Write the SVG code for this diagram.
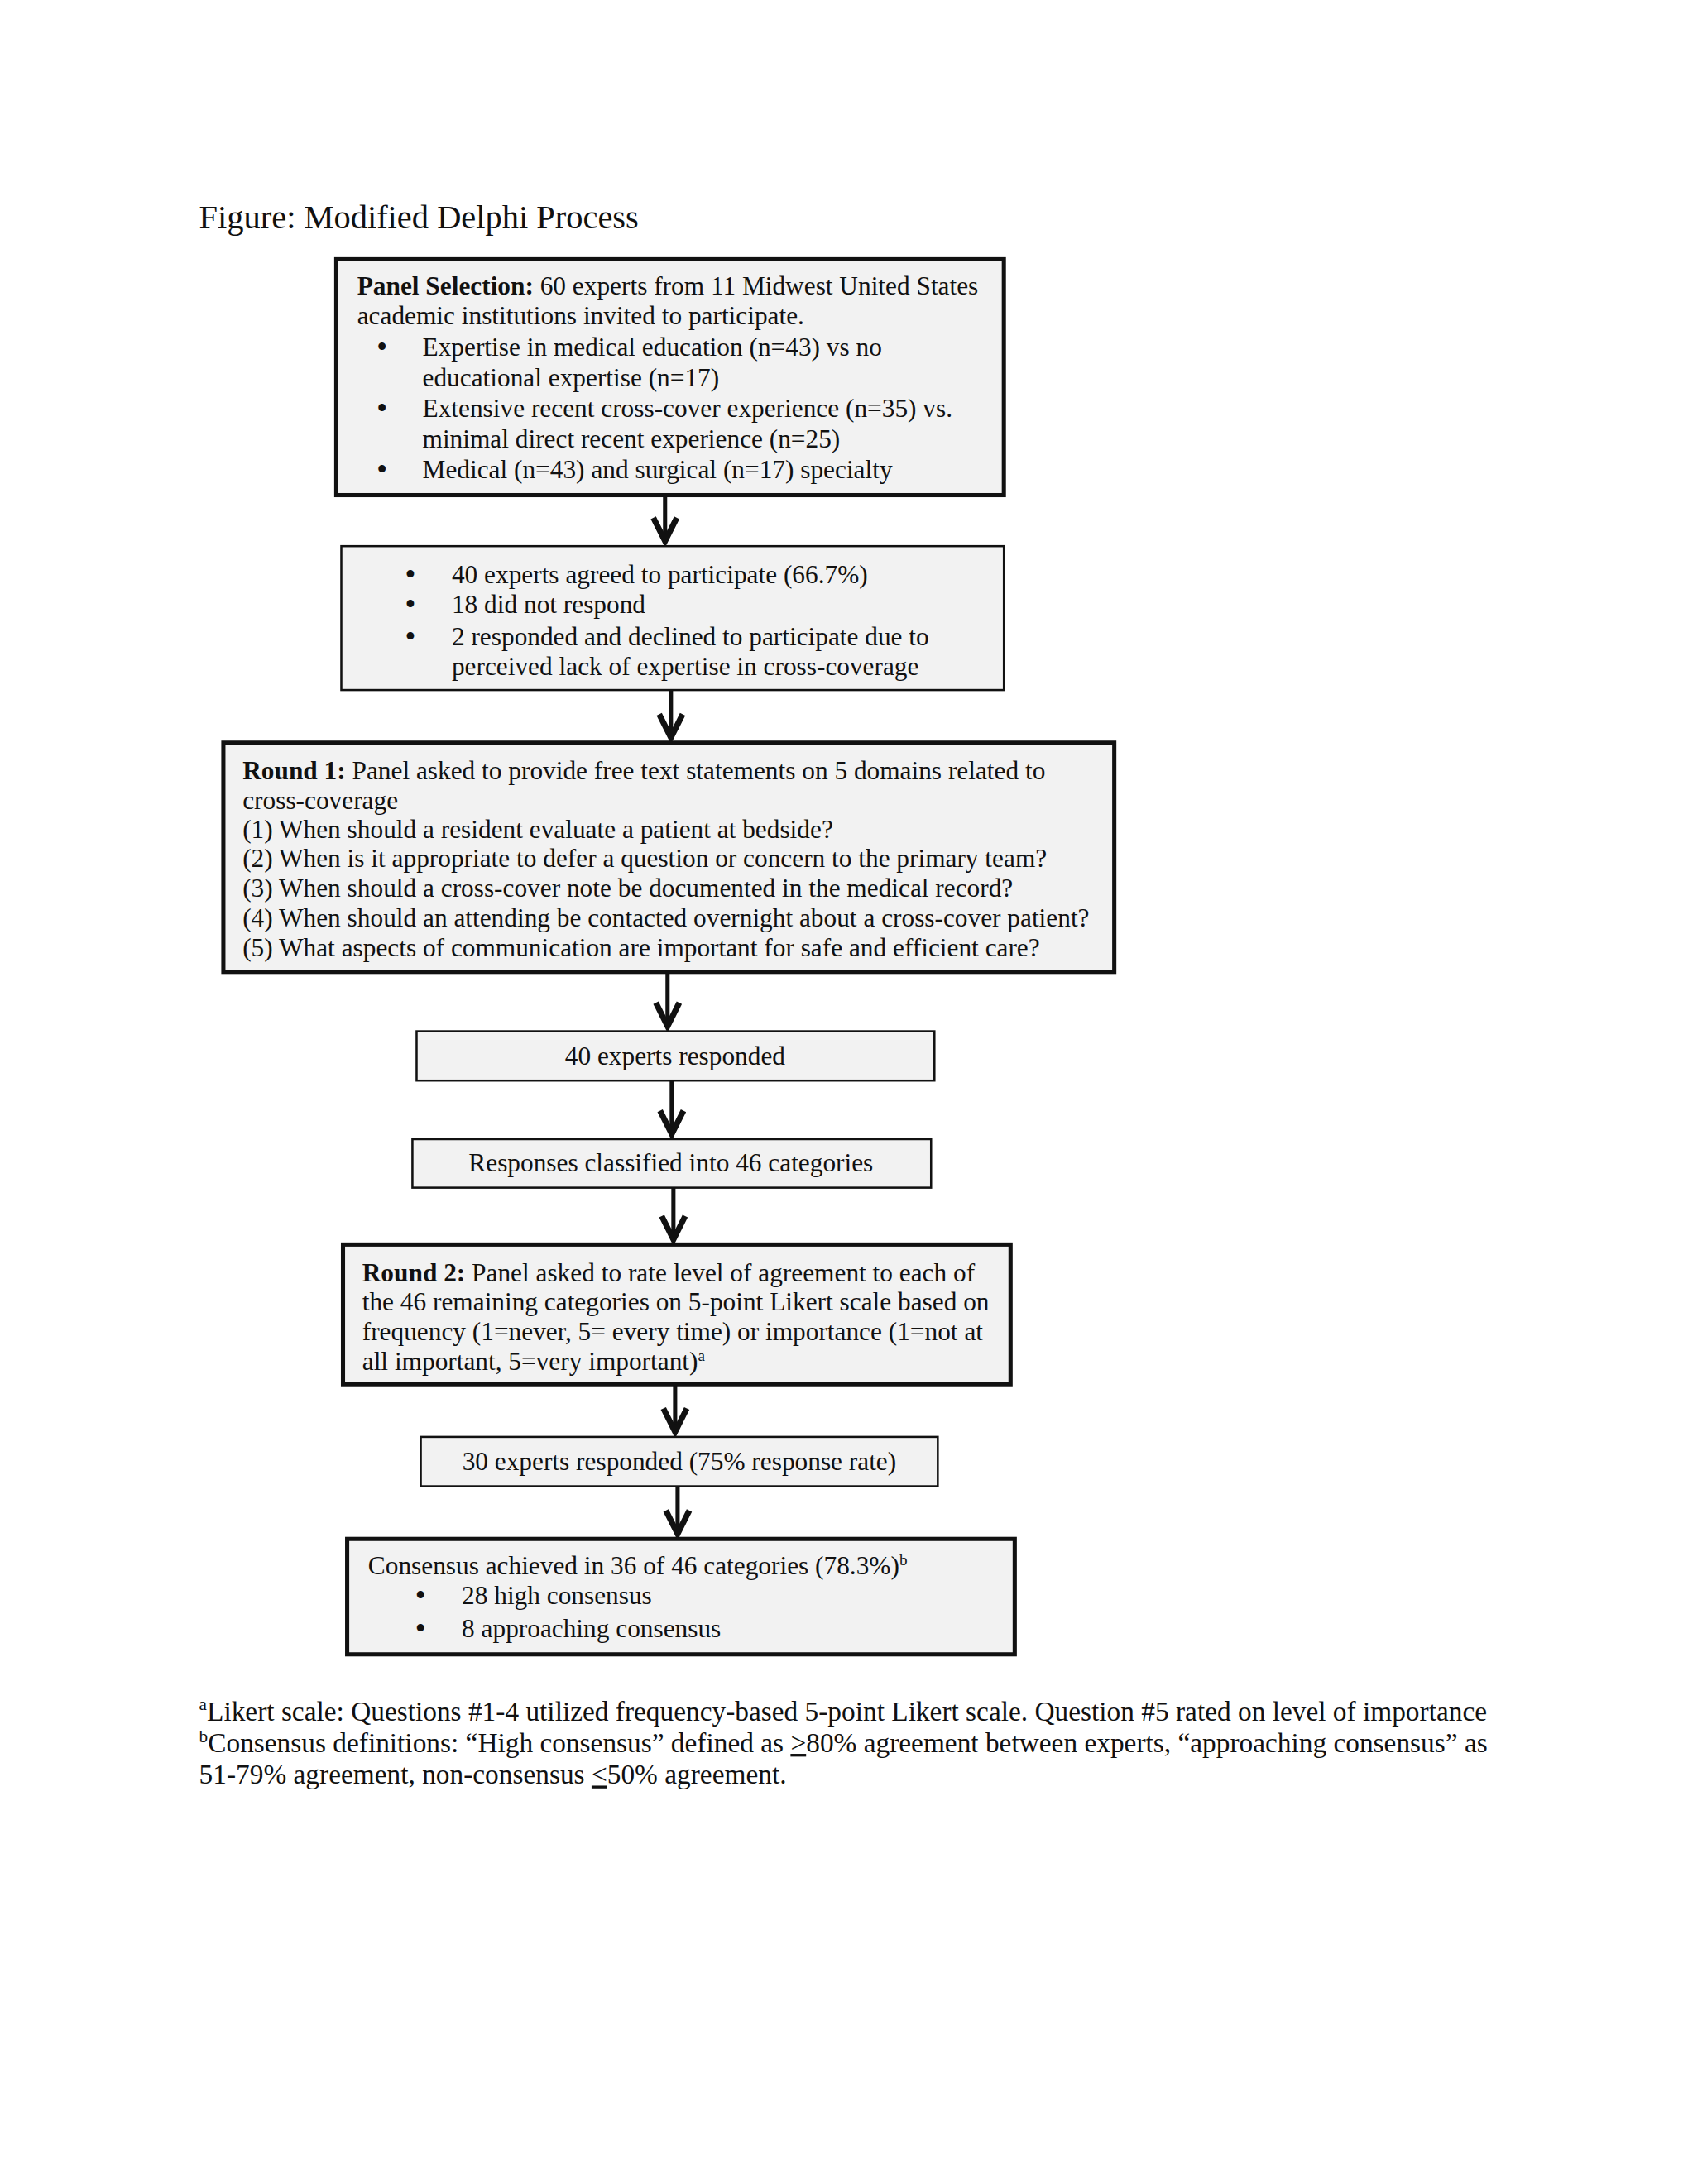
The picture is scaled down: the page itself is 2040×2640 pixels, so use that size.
<svg xmlns="http://www.w3.org/2000/svg" width="2040" height="2640" viewBox="0 0 2040 2640">
<style>
text{font-family:"Liberation Serif","Times New Roman",serif;fill:#111;}
.t{font-size:31px;}
.bu{font-size:32px;font-family:"Liberation Sans",Arial,sans-serif;}
.title{font-size:40px;}
.fn{font-size:33px;}
.box{fill:#f2f2f2;stroke:#111;}
.thick{stroke-width:5;}
.thin{stroke-width:2.5;}
.b{font-weight:bold;}
.conn{stroke:#111;stroke-width:5;fill:none;}
.mid{text-anchor:middle;}
</style>
<defs>
<marker id="ah" markerUnits="userSpaceOnUse" viewBox="-40 -24 48 48" markerWidth="48" markerHeight="48" refX="0" refY="0" orient="auto" overflow="visible">
<path d="M -28,-14 L 0,0 L -28,14" fill="none" stroke="#111" stroke-width="7" stroke-linejoin="miter"/>
</marker>
</defs>
<rect width="2040" height="2640" fill="#fff"/>
<g transform="scale(1.011)">
<text class="title" x="238" y="273">Figure: Modified Delphi Process</text>

<g id="connectors">
<line class="conn" x1="795" y1="592" x2="795" y2="647" marker-end="url(#ah)"/>
<line class="conn" x1="802" y1="825" x2="802" y2="882" marker-end="url(#ah)"/>
<line class="conn" x1="798" y1="1162" x2="798" y2="1227" marker-end="url(#ah)"/>
<line class="conn" x1="803" y1="1292" x2="803" y2="1356" marker-end="url(#ah)"/>
<line class="conn" x1="805" y1="1420" x2="805" y2="1482" marker-end="url(#ah)"/>
<line class="conn" x1="807" y1="1655" x2="807" y2="1712" marker-end="url(#ah)"/>
<line class="conn" x1="810" y1="1777" x2="810" y2="1834" marker-end="url(#ah)"/>
</g>

<g id="panel-selection">
<rect class="box thick" x="402" y="310" width="798" height="282"/>
<text class="t" x="427" y="352"><tspan class="b">Panel Selection:</tspan> 60 experts from 11 Midwest United States</text>
<text class="t" x="427" y="388">academic institutions invited to participate.</text>
<text class="bu" x="451" y="425">•</text>
<text class="t" x="505" y="425">Expertise in medical education (n=43) vs no</text>
<text class="t" x="505" y="462">educational expertise (n=17)</text>
<text class="bu" x="451" y="499">•</text>
<text class="t" x="505" y="499">Extensive recent cross-cover experience (n=35) vs.</text>
<text class="t" x="505" y="535">minimal direct recent experience (n=25)</text>
<text class="bu" x="451" y="572">•</text>
<text class="t" x="505" y="572">Medical (n=43) and surgical (n=17) specialty</text>
</g>

<g id="participation">
<rect class="box thin" x="408" y="653" width="792" height="172"/>
<text class="bu" x="485" y="697">•</text>
<text class="t" x="540" y="697">40 experts agreed to participate (66.7%)</text>
<text class="bu" x="485" y="733">•</text>
<text class="t" x="540" y="733">18 did not respond</text>
<text class="bu" x="485" y="772">•</text>
<text class="t" x="540" y="772">2 responded and declined to participate due to</text>
<text class="t" x="540" y="807">perceived lack of expertise in cross-coverage</text>
</g>

<g id="round1">
<rect class="box thick" x="267" y="888" width="1065" height="274"/>
<text class="t" x="290" y="932"><tspan class="b">Round 1:</tspan> Panel asked to provide free text statements on 5 domains related to</text>
<text class="t" x="290" y="967">cross-coverage</text>
<text class="t" x="290" y="1002">(1) When should a resident evaluate a patient at bedside?</text>
<text class="t" x="290" y="1037">(2) When is it appropriate to defer a question or concern to the primary team?</text>
<text class="t" x="290" y="1072">(3) When should a cross-cover note be documented in the medical record?</text>
<text class="t" x="290" y="1108">(4) When should an attending be contacted overnight about a cross-cover patient?</text>
<text class="t" x="290" y="1143">(5) What aspects of communication are important for safe and efficient care?</text>
</g>

<g id="responded40">
<rect class="box thin" x="498" y="1233" width="619" height="59"/>
<text class="t mid" x="807" y="1273">40 experts responded</text>
</g>

<g id="classified">
<rect class="box thin" x="493" y="1362" width="620" height="58"/>
<text class="t mid" x="802" y="1401">Responses classified into 46 categories</text>
</g>

<g id="round2">
<rect class="box thick" x="410" y="1488" width="798" height="167"/>
<text class="t" x="433" y="1532"><tspan class="b">Round 2:</tspan> Panel asked to rate level of agreement to each of</text>
<text class="t" x="433" y="1567">the 46 remaining categories on 5-point Likert scale based on</text>
<text class="t" x="433" y="1602">frequency (1=never, 5= every time) or importance (1=not at</text>
<text class="t" x="433" y="1638">all important, 5=very important)<tspan font-size="19" dy="-11">a</tspan></text>
</g>

<g id="responded30">
<rect class="box thin" x="503" y="1718" width="618" height="59"/>
<text class="t mid" x="812" y="1758">30 experts responded (75% response rate)</text>
</g>

<g id="consensus">
<rect class="box thick" x="415" y="1840" width="798" height="138"/>
<text class="t" x="440" y="1882">Consensus achieved in 36 of 46 categories (78.3%)<tspan font-size="19" dy="-11">b</tspan></text>
<text class="bu" x="497" y="1918">•</text>
<text class="t" x="552" y="1918">28 high consensus</text>
<text class="bu" x="497" y="1957">•</text>
<text class="t" x="552" y="1957">8 approaching consensus</text>
</g>

<g id="footnotes">
<text class="fn" x="238" y="2057"><tspan font-size="21" dy="-12">a</tspan><tspan dy="12">Likert scale: Questions #1-4 utilized frequency-based 5-point Likert scale. Question #5 rated on level of importance</tspan></text>
<text class="fn" x="238" y="2095"><tspan font-size="21" dy="-12">b</tspan><tspan dy="12">Consensus definitions: “High consensus” defined as </tspan><tspan text-decoration="underline">&gt;</tspan>80% agreement between experts, “approaching consensus” as</text>
<text class="fn" x="238" y="2133">51-79% agreement, non-consensus <tspan text-decoration="underline">&lt;</tspan>50% agreement.</text>
</g>
</g>
</svg>
